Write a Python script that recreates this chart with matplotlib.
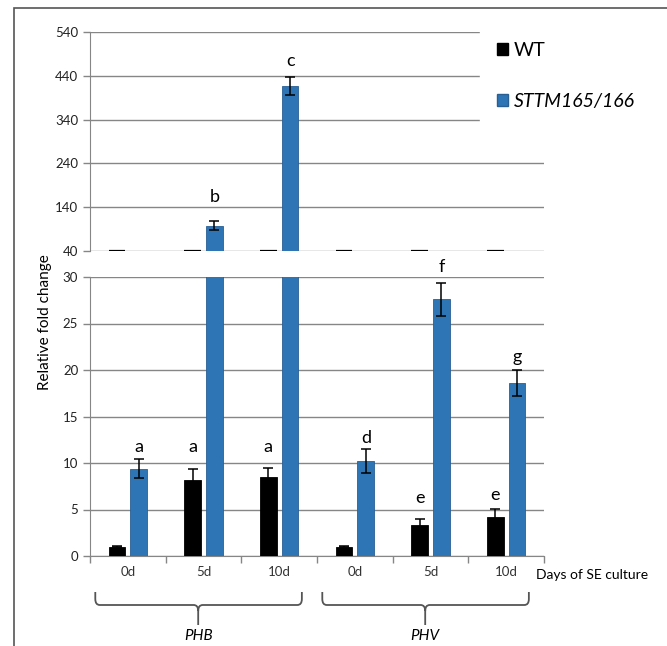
import numpy as np
import matplotlib
matplotlib.use("Agg")
from matplotlib import pyplot as plt
from matplotlib.path import Path
from matplotlib.patches import PathPatch, Rectangle
from matplotlib.transforms import blended_transform_factory

plt.rcParams['font.family'] = ['Lato', 'DejaVu Sans']

# data
days = ['0d', '5d', '10d', '0d', '5d', '10d']
genes = ['PHB', 'PHV']
wt = [1.0, 8.2, 8.5, 1.0, 3.3, 4.2]
wt_err = [0.08, 1.2, 1.0, 0.08, 0.7, 0.9]
sttm = [9.4, 98, 417, 10.2, 27.6, 18.6]
sttm_err = [1.05, 10, 21, 1.3, 1.75, 1.4]

# significance letters: series (0 = WT, 1 = STTM), letter, height
let_series = [1, 0, 0, 1, 0, 1, 0, 1, 1, 1]
let_group = [0, 1, 2, 3, 4, 4, 5, 5, 1, 2]
let_text = ['a', 'a', 'a', 'd', 'e', 'f', 'e', 'g', 'b', 'c']
let_y = [11.7, 11.7, 11.7, 12.7, 6.2, 31.1, 6.6, 21.4, 164, 473]

grid_c = '#868686'
blue = '#2e75b6'

fig = plt.figure(figsize=(6.67, 6.46), dpi=100)
W, H = 667, 646
ax_top = fig.add_axes([90 / W, 1 - 251 / H, 454 / W, 219 / H])
ax_bot = fig.add_axes([90 / W, 1 - 556 / H, 454 / W, 279 / H])

x = np.arange(len(days))
bw = 0.22
off = 0.145

for ax in (ax_top, ax_bot):
    ax.bar(x - off, wt, bw, color='black', edgecolor='black', lw=0.6, zorder=3)
    ax.bar(x + off, sttm, bw, color=blue, edgecolor='#2a5f94', lw=0.6, zorder=3)
    ax.errorbar(x - off, wt, yerr=wt_err, fmt='none', ecolor='black',
                elinewidth=1.1, capsize=3.5, capthick=1.1, zorder=4)
    ax.errorbar(x + off, sttm, yerr=sttm_err, fmt='none', ecolor='black',
                elinewidth=1.1, capsize=3.5, capthick=1.1, zorder=4)
    ax.set_xlim(-0.5, len(days) - 0.5)
    ax.yaxis.grid(True, color=grid_c, lw=1.0)
    ax.set_axisbelow(True)
    for s in ['top', 'right']:
        ax.spines[s].set_visible(False)
    ax.spines['left'].set_color(grid_c)
    ax.tick_params(axis='y', colors=grid_c, labelcolor='#222222',
                   labelsize=9.5, length=5, width=1)

ax_top.set_ylim(40, 540)
ax_top.set_yticks(np.arange(40, 541, 100))
ax_top.spines['bottom'].set_visible(False)
ax_top.set_xticks([])
# excel-style stubs where small WT bars hit the axis floor
ax_top.hlines([40] * len(x), x - off - bw / 2, x - off + bw / 2,
              color='black', lw=1.6, zorder=3)

ax_bot.set_ylim(0, 30)
ax_bot.set_yticks(np.arange(0, 31, 5))
ax_bot.spines['bottom'].set_color(grid_c)
ax_bot.set_xticks(np.arange(-0.5, len(days)), minor=False)
ax_bot.set_xticklabels([])
ax_bot.tick_params(axis='x', colors=grid_c, length=5, width=1)
for xi, d in zip(x, days):
    ax_bot.text(xi, -1.75, d, ha='center', va='center', fontsize=9.5,
                color='#333333')
fig.text(536 / W, 1 - 575 / H, 'Days of SE culture', ha='left',
         va='center', fontsize=10)

fig.text(45 / W, 1 - 322 / H, 'Relative fold change', rotation=90,
         ha='center', va='center', fontsize=11)

# letters
for s, g, t, yv in zip(let_series, let_group, let_text, let_y):
    xp = g + (off if s == 1 else -off)
    ax = ax_top if yv > 40 else ax_bot
    ax.text(xp, yv, t, ha='center', va='center', fontsize=13,
            clip_on=False, zorder=6)

# legend
h1 = plt.Rectangle((0, 0), 1, 1, fc='black', ec='black')
h2 = plt.Rectangle((0, 0), 1, 1, fc=blue, ec='#2a5f94')
leg = ax_top.legend([h1, h2], ['WT', 'STTM165/166'],
                    bbox_to_anchor=(480 / W, 1 - 25 / H),
                    bbox_transform=fig.transFigure, loc='upper left',
                    fontsize=14, handlelength=0.55, handleheight=0.55,
                    handletextpad=0.3, labelspacing=1.72, borderpad=0.88,
                    borderaxespad=0, frameon=True, fancybox=False)
leg.get_frame().set_facecolor('white')
leg.get_frame().set_edgecolor('white')
leg.get_frame().set_alpha(1)
leg.get_texts()[1].set_fontstyle('italic')

# braces under gene groups
tr = blended_transform_factory(ax_bot.transData, fig.transFigure)
yt, ym, ytip = 1 - 592 / H, 1 - 605 / H, 1 - 625 / H
rx, ry = 0.06, 6 / H
for gi, gname in enumerate(genes):
    x0 = gi * 3 - 0.43
    x1 = gi * 3 + 2.3
    xc = gi * 3 + 0.93
    verts = [(x0, yt), (x0, ym + ry), (x0, ym), (x0 + rx, ym),
             (xc - rx, ym), (xc, ym), (xc, ym - ry), (xc, ytip),
             (x1, yt), (x1, ym + ry), (x1, ym), (x1 - rx, ym),
             (xc + rx, ym), (xc, ym), (xc, ym - ry)]
    codes = [Path.MOVETO, Path.LINETO, Path.CURVE3, Path.CURVE3,
             Path.LINETO, Path.CURVE3, Path.CURVE3, Path.LINETO,
             Path.MOVETO, Path.LINETO, Path.CURVE3, Path.CURVE3,
             Path.LINETO, Path.CURVE3, Path.CURVE3]
    fig.add_artist(PathPatch(Path(verts, codes), transform=tr, fill=False,
                             ec='#555555', lw=1.3, clip_on=False))
    fig.text(0, 1 - 636 / H, gname, transform=tr, ha='center', va='center',
             fontsize=11, style='italic').set_x(xc)

# outer frame
fig.add_artist(Rectangle((14 / W, -0.1), 1.1, 1 - 8 / H + 0.1,
                         transform=fig.transFigure, fill=False,
                         ec='#555555', lw=1.2))

plt.savefig('out.png', dpi=100)
